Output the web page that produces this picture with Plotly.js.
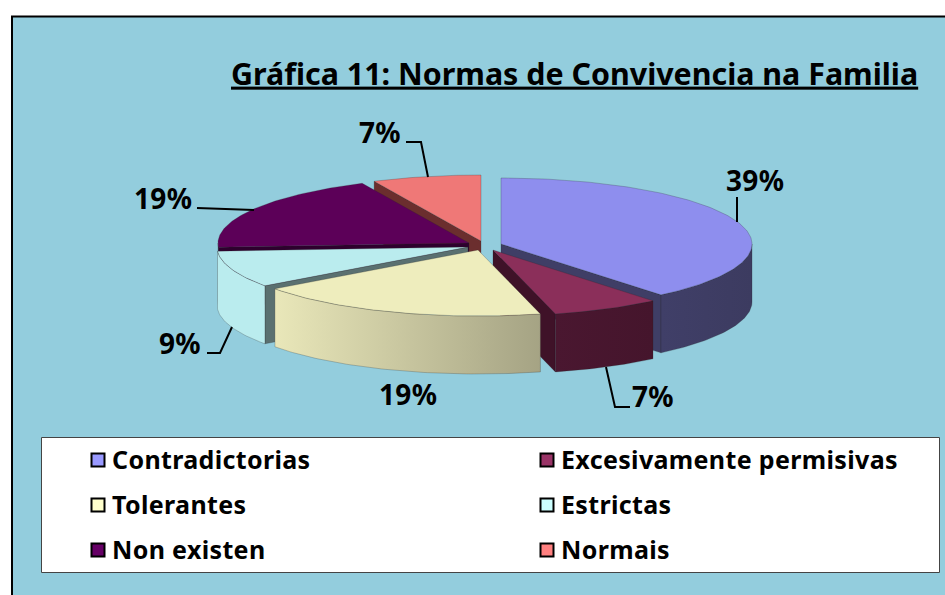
<!DOCTYPE html>
<html><head><meta charset="utf-8">
<script src="https://cdn.plot.ly/plotly-3.0.1.min.js"></script>
<style>html,body{margin:0;padding:0;background:#fff;overflow:hidden}#c{width:945px;height:595px}.annotation-text{letter-spacing:.35px}</style>
</head><body><div id="c"></div>
<script>
// --- data
const categories = ["Contradictorias","Excesivamente permisivas","Tolerantes","Estrictas","Non existen","Normais"];
const values = [39,7,19,9,19,7];
const chartTitle = "Gráfica 11: Normas de Convivencia na Familia";
// --- style
const topColors  = ["#8E8EEE","#8B2F5A","#EEEDBD","#BAECEE","#5C0058","#EF7877"];
const faceColors = ["#3F3E66","#3F1228","#8F8E70","#5A7070","#2E002E","#6B2E2E"];
const rimFrom    = ["#403F68","#4A1730","#E9E7B9","#BAECEE","#2E002E","#6B2E2E"];
const rimTo      = ["#3C3B60","#45152C","#A5A384","#BAECEE","#2E002E","#6B2E2E"];
const legendColors = ["#9999FF","#993366","#FFFFCC","#CCFFFF","#660066","#FF8080"];
const apexX = [501,493,478,468,469,481];
const apexY = [244,250,250,247,243,241];
const drawOrder = [5,4,3,0,1,2];
const labelX = [755,653,408,180,163,380];
const labelY = [180,396,394,343,198,132];
const legendX = [98,547,98,547,98,547];
const legendY = [460,460,505,505,550,550];
const RX=251, RY=66, DEPTH=58;
const FONT="Noto Sans";

// --- slice angles from the values
const total = values.reduce((a,b)=>a+b,0);
let acc=0; const starts=[], ends=[];
values.forEach(v=>{starts.push(acc/total*360); acc+=v; ends.push(acc/total*360);});
const rad=d=>d*Math.PI/180;
const px=(i,a)=>apexX[i]+RX*Math.sin(rad(a));
const py=(i,a)=>apexY[i]-RY*Math.cos(rad(a));
const outline={color:"rgba(40,40,40,0.4)",width:0.6};
function poly(xs,ys,color,extra){
  return Object.assign({type:"scatter",mode:"lines",x:xs,y:ys,fill:"toself",fillcolor:color,
    line:outline,hoverinfo:"skip",showlegend:false},extra||{});
}
const traces=[];
drawOrder.forEach(i=>{
  const s=starts[i], e=ends[i];
  const face=a=>{
    const x=[apexX[i],px(i,a),px(i,a),apexX[i],apexX[i]];
    const y=[apexY[i],py(i,a),py(i,a)+DEPTH,apexY[i]+DEPTH,apexY[i]];
    traces.push(poly(x,y,faceColors[i],{name:categories[i]+" (cara)"}));
  };
  if(Math.sin(rad(s))<-1e-6) face(s);
  if(Math.sin(rad(e))>1e-6) face(e);
  // outer rim: the part of the arc facing the viewer
  const r0=Math.max(s,90), r1=Math.min(e,270);
  if(r1>r0){
    const ux=[],uy=[];
    for(let a=r0;a<r1;a+=1){ux.push(px(i,a));uy.push(py(i,a));}
    ux.push(px(i,r1));uy.push(py(i,r1));
    const bx=ux.slice().reverse(), by=uy.slice().reverse().map(v=>v+DEPTH);
    traces.push(poly(ux.concat(bx,[ux[0]]),uy.concat(by,[uy[0]]),rimFrom[i],{
      name:categories[i]+" (borde)",
      fillgradient:{type:"horizontal",colorscale:[[0,rimFrom[i]],[1,rimTo[i]]]}
    }));
  }
  // top surface
  const tx=[apexX[i]],ty=[apexY[i]];
  for(let a=s;a<e;a+=1){tx.push(px(i,a));ty.push(py(i,a));}
  tx.push(px(i,e),apexX[i]);ty.push(py(i,e),apexY[i]);
  traces.push(poly(tx,ty,topColors[i],{name:categories[i]}));
});
// legend swatches
categories.forEach((c,i)=>traces.push({type:"scatter",mode:"markers",x:[legendX[i]],y:[legendY[i]],name:c,
  marker:{symbol:"square",size:13,color:legendColors[i],line:{color:"#000",width:2}},hoverinfo:"skip",showlegend:false}));

const annotations=[];
values.forEach((v,i)=>annotations.push({x:labelX[i],y:labelY[i],xref:"x",yref:"y",text:v+"%",showarrow:false,
  font:{family:FONT,size:28,color:"#000",weight:700},xanchor:"center",yanchor:"middle"}));
categories.forEach((c,i)=>annotations.push({x:legendX[i]+13,y:legendY[i]-1,xref:"x",yref:"y",text:c,showarrow:false,
  font:{family:FONT,size:25,color:"#000",weight:700},xanchor:"left",yanchor:"middle",borderpad:0}));

const leader=p=>({type:"path",path:p,line:{color:"#000",width:2},layer:"above"});
const layout={
  width:945,height:595,margin:{l:0,r:0,t:0,b:0},paper_bgcolor:"#fff",plot_bgcolor:"rgba(0,0,0,0)",showlegend:false,
  title:{text:chartTitle,x:231/945,xref:"paper",xanchor:"left",y:1-74/595,yref:"paper",yanchor:"middle",
    font:{family:FONT,size:30.4,color:"#000",weight:700,lineposition:"under"}},
  xaxis:{range:[0,945],visible:false,fixedrange:true},
  yaxis:{range:[595,0],visible:false,fixedrange:true},
  shapes:[
    {type:"rect",x0:12,y0:16.5,x1:960,y1:620,fillcolor:"#93CDDD",line:{color:"#000",width:2},layer:"below"},
    {type:"rect",x0:41.5,y0:437.5,x1:939.5,y1:572.5,fillcolor:"#fff",line:{color:"#444",width:1},layer:"below"},
    leader("M737,197 L737,222"),
    leader("M606,367 L615,407 L630,407"),
    leader("M232,327 L220,353 L207,353"),
    leader("M197,208 L254,210"),
    leader("M406,142 L421,142 L428,177")
  ],
  annotations:annotations
};
Plotly.newPlot("c",traces,layout,{staticPlot:true,displayModeBar:false});
</script></body></html>
